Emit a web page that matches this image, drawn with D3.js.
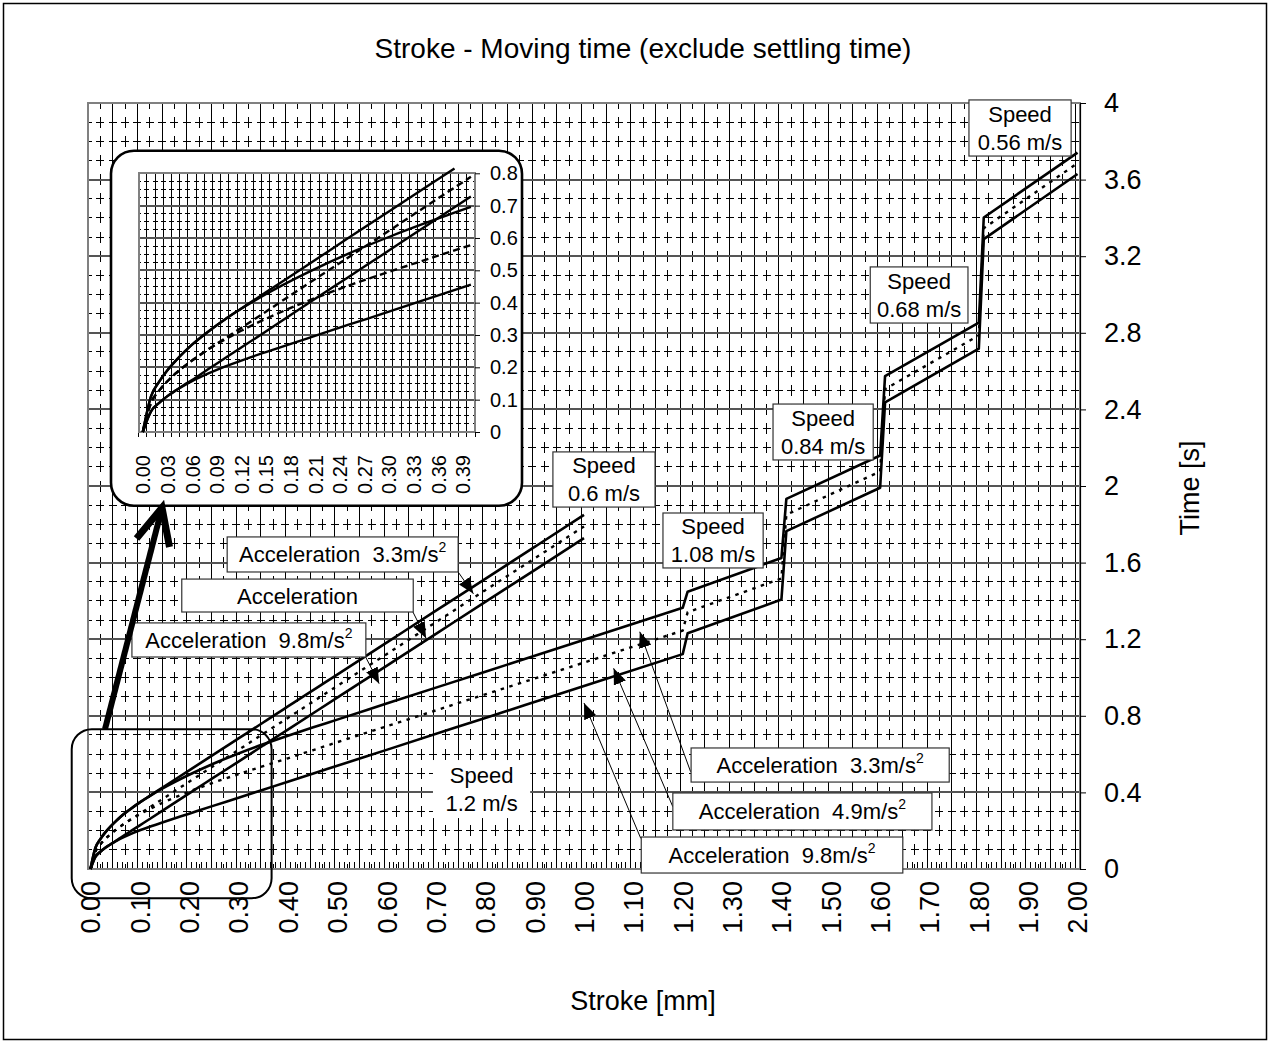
<!DOCTYPE html>
<html>
<head>
<meta charset="utf-8">
<script src="https://cdn.jsdelivr.net/npm/d3@7"></script>
<style>
  body { margin: 0; background: #fff; }
  svg { display: block; }
</style>
</head>
<body>
<svg id="chart" width="1276" height="1043"></svg>
<script>
// ---------------- data ----------------
// Stroke [mm] sample points for the 0.6 m/s family (ends at 1.00)
const strokeSlow = [0, 0.01, 0.02, 0.03, 0.04, 0.05, 0.06, 0.08, 0.10, 0.12, 0.15, 0.20, 0.25, 0.30, 0.35, 0.38, 0.40, 0.50, 0.60, 0.70, 0.80, 0.90, 1.00];
// Moving time [s], speed 0.6 m/s
const slowAcc98 = [0, 0.064, 0.090, 0.111, 0.128, 0.145, 0.161, 0.195, 0.228, 0.261, 0.311, 0.395, 0.478, 0.561, 0.645, 0.695, 0.728, 0.895, 1.061, 1.228, 1.395, 1.561, 1.728];
const slowAcc49 = [0, 0.090, 0.128, 0.157, 0.181, 0.202, 0.221, 0.256, 0.289, 0.322, 0.372, 0.456, 0.539, 0.622, 0.706, 0.756, 0.789, 0.956, 1.122, 1.289, 1.456, 1.622, 1.789];
const slowAcc33 = [0, 0.110, 0.156, 0.191, 0.220, 0.246, 0.270, 0.311, 0.348, 0.382, 0.432, 0.515, 0.599, 0.682, 0.765, 0.815, 0.849, 1.015, 1.182, 1.349, 1.515, 1.682, 1.849];

// Stroke [mm] sample points for the stepped-speed family (1.2 / 1.08 / 0.84 / 0.68 / 0.56 m/s)
const strokeStep = [0, 0.01, 0.02, 0.03, 0.04, 0.05, 0.06, 0.08, 0.10, 0.12, 0.15, 0.20, 0.25, 0.30, 0.35, 0.40, 0.45, 0.50, 0.60, 0.80, 1.00, 1.20, 1.21, 1.40, 1.41, 1.60, 1.61, 1.80, 1.81, 2.00];
const stepAcc98 = [0, 0.064, 0.090, 0.111, 0.128, 0.143, 0.157, 0.181, 0.202, 0.221, 0.247, 0.289, 0.331, 0.372, 0.414, 0.456, 0.497, 0.539, 0.622, 0.789, 0.956, 1.122, 1.231, 1.407, 1.764, 1.991, 2.437, 2.717, 3.289, 3.629];
const stepAcc49 = [0, 0.090, 0.128, 0.157, 0.181, 0.202, 0.221, 0.256, 0.286, 0.313, 0.350, 0.404, 0.452, 0.495, 0.537, 0.578, 0.620, 0.662, 0.745, 0.912, 1.078, 1.245, 1.341, 1.517, 1.850, 2.076, 2.506, 2.786, 3.346, 3.686];
const stepAcc33 = [0, 0.110, 0.156, 0.191, 0.220, 0.246, 0.270, 0.311, 0.348, 0.381, 0.426, 0.492, 0.551, 0.603, 0.651, 0.696, 0.739, 0.780, 0.864, 1.030, 1.197, 1.364, 1.448, 1.624, 1.933, 2.159, 2.574, 2.853, 3.402, 3.741];

// Axis ticks
const strokeTicks = [0, 0.1, 0.2, 0.3, 0.4, 0.5, 0.6, 0.7, 0.8, 0.9, 1.0, 1.1, 1.2, 1.3, 1.4, 1.5, 1.6, 1.7, 1.8, 1.9, 2.0];
const timeTicks = [0, 0.4, 0.8, 1.2, 1.6, 2, 2.4, 2.8, 3.2, 3.6, 4];
const insetStrokeTicks = [0, 0.03, 0.06, 0.09, 0.12, 0.15, 0.18, 0.21, 0.24, 0.27, 0.30, 0.33, 0.36, 0.39];
const insetTimeTicks = [0, 0.1, 0.2, 0.3, 0.4, 0.5, 0.6, 0.7, 0.8];

// Label texts
const speedLabels = ["0.56 m/s", "0.68 m/s", "0.84 m/s", "1.08 m/s", "0.6 m/s", "1.2 m/s"];
const accelLabels = ["3.3", "", "9.8", "3.3", "4.9", "9.8"];

// ---------------- setup ----------------
const FONT = '"Liberation Sans", Arial, Helvetica, sans-serif';
const svg = d3.select("#chart").attr("font-family", FONT);

svg.append("rect").attr("width", 1276).attr("height", 1043).attr("fill", "#fff");
svg.append("rect").attr("x", 3.5).attr("y", 3.5).attr("width", 1263).attr("height", 1036)
  .attr("fill", "none").attr("stroke", "#000").attr("stroke-width", 1.5);

const defs = svg.append("defs");
defs.append("marker").attr("id", "head")
  .attr("viewBox", "0 0 16 13").attr("refX", 16).attr("refY", 6.5)
  .attr("markerWidth", 16).attr("markerHeight", 13)
  .attr("markerUnits", "userSpaceOnUse").attr("orient", "auto")
  .append("path").attr("d", "M0,0 L16,6.5 L0,13 Z").attr("fill", "#000");

// ---------------- main plot ----------------
const M = { left: 88, right: 1080, top: 103, bottom: 869 };
const x = d3.scaleLinear().domain([-0.005, 2.005]).range([M.left, M.right]);
const y = d3.scaleLinear().domain([0, 4]).range([M.bottom, M.top]);

const grid = svg.append("g").attr("shape-rendering", "crispEdges");
const colStep = x(0.025) - x(0);   // spacing between grid columns
const rowStep = y(0) - y(0.1);     // spacing between grid rows

// dashed rows every 0.1 s
d3.range(1, 40).filter(k => k % 4 !== 0).forEach(k => {
  grid.append("line")
    .attr("x1", M.left).attr("x2", M.right).attr("y1", y(k / 10)).attr("y2", y(k / 10))
    .attr("stroke", "#000").attr("stroke-width", 1)
    .attr("stroke-dasharray", `8 ${colStep - 8}`).attr("stroke-dashoffset", 4);
});
// dashed columns between solid columns
d3.range(0, 40).forEach(k => {
  const v = 0.02 + 0.05 * k;
  grid.append("line")
    .attr("x1", x(v)).attr("x2", x(v)).attr("y1", M.bottom).attr("y2", M.top)
    .attr("stroke", "#000").attr("stroke-width", 1)
    .attr("stroke-dasharray", `11 ${rowStep - 11}`).attr("stroke-dashoffset", 5.5);
});
// solid columns every 0.05 mm
d3.range(1, 41).forEach(k => {
  const v = -0.005 + 0.05 * k;
  grid.append("line")
    .attr("x1", x(v)).attr("x2", x(v)).attr("y1", M.top).attr("y2", M.bottom)
    .attr("stroke", "#000").attr("stroke-width", 1);
});
// solid rows every 0.4 s
d3.range(1, 10).forEach(k => {
  grid.append("line")
    .attr("x1", M.left).attr("x2", M.right).attr("y1", y(k * 0.4)).attr("y2", y(k * 0.4))
    .attr("stroke", "#555").attr("stroke-width", 2);
});
// small category ticks along the bottom edge
d3.range(1, 201).forEach(k => {
  const v = -0.005 + 0.01 * k;
  grid.append("line")
    .attr("x1", x(v)).attr("x2", x(v)).attr("y1", M.bottom).attr("y2", M.bottom - 7)
    .attr("stroke", "#000").attr("stroke-width", 1);
});
grid.append("rect").attr("x", M.left).attr("y", M.top)
  .attr("width", M.right - M.left).attr("height", M.bottom - M.top)
  .attr("fill", "none").attr("stroke", "#808080").attr("stroke-width", 2);

// series: smooth near the origin, straight segments where the speed changes
const zip = (xs, ys) => xs.map((s, i) => [s, ys[i]]);
const mainSeries = [
  { pts: zip(strokeStep, stepAcc49), dash: true },
  { pts: zip(strokeSlow, slowAcc49), dash: true },
  { pts: zip(strokeStep, stepAcc98), dash: false },
  { pts: zip(strokeStep, stepAcc33), dash: false },
  { pts: zip(strokeSlow, slowAcc98), dash: false },
  { pts: zip(strokeSlow, slowAcc33), dash: false }
];
const smoothLine = d3.line().x(d => x(d[0])).y(d => y(d[1])).curve(d3.curveMonotoneX);
const straightLine = d3.line().x(d => x(d[0])).y(d => y(d[1]));
const seriesPath = pts => {
  const head = pts.filter(p => p[0] <= 1.0);
  const tail = pts.filter(p => p[0] >= 1.0);
  return smoothLine(head) + (tail.length > 1 ? straightLine(tail).replace(/^M/, "L") : "");
};
svg.append("g").selectAll("path").data(mainSeries).join("path")
  .attr("d", d => seriesPath(d.pts))
  .attr("fill", "none").attr("stroke", "#000")
  .attr("stroke-width", d => d.dash ? 2.4 : 2.6)
  .attr("stroke-dasharray", d => d.dash ? "3.5 5.5" : null)
  .attr("stroke-linejoin", "round");

// right time axis
const gy = svg.append("g").attr("transform", `translate(${M.right},0)`)
  .call(d3.axisRight(y).tickValues(timeTicks).tickSize(6).tickSizeOuter(0).tickPadding(18).tickFormat(d => String(d)));
gy.attr("font-family", FONT).attr("font-size", 27);
gy.select(".domain").attr("stroke", "#000").attr("stroke-width", 1.2);
gy.selectAll(".tick line").attr("stroke", "#000");
gy.selectAll("text").attr("fill", "#000");

// bottom stroke axis (rotated labels)
const gx = svg.append("g").attr("transform", `translate(0,${M.bottom})`)
  .call(d3.axisBottom(x).tickValues(strokeTicks).tickSize(0).tickFormat(d3.format(".2f")));
gx.attr("font-family", FONT).attr("font-size", 27);
gx.select(".domain").remove();
gx.selectAll("text").attr("fill", "#000")
  .attr("transform", "rotate(-90)").attr("text-anchor", "end")
  .attr("x", -12).attr("y", 0).attr("dy", "0.35em");

// titles
svg.append("text").attr("x", 643).attr("y", 58).attr("text-anchor", "middle")
  .attr("font-size", 28).text("Stroke - Moving time (exclude settling time)");
svg.append("text").attr("x", 643).attr("y", 1010).attr("text-anchor", "middle")
  .attr("font-size", 27).text("Stroke [mm]");
svg.append("text").attr("transform", "translate(1199,488) rotate(-90)").attr("text-anchor", "middle")
  .attr("font-size", 27).text("Time [s]");

// ---------------- annotations ----------------
const ann = svg.append("g");

// zoom region outline near the origin
ann.append("rect")
  .attr("x", x(-0.038)).attr("y", y(0.730))
  .attr("width", x(0.367) - x(-0.038)).attr("height", y(-0.153) - y(0.730))
  .attr("rx", 20).attr("ry", 20)
  .attr("fill", "none").attr("stroke", "#000").attr("stroke-width", 2);

// leader arrows (stroke, time) -> (stroke, time)
const leaders = [
  { from: [0.745, 1.551], to: [0.776, 1.437] },
  { from: [0.653, 1.344], to: [0.680, 1.205] },
  { from: [0.558, 1.105], to: [0.585, 0.968] },
  { from: [1.216, 0.508], to: [1.113, 1.239] },
  { from: [1.180, 0.325], to: [1.060, 1.048] },
  { from: [1.115, 0.160], to: [1.000, 0.867] }
];
ann.selectAll("line.leader").data(leaders).join("line").attr("class", "leader")
  .attr("x1", d => x(d.from[0])).attr("y1", d => y(d.from[1]))
  .attr("x2", d => x(d.to[0])).attr("y2", d => y(d.to[1]))
  .attr("stroke", "#000").attr("stroke-width", 1).attr("marker-end", "url(#head)");

// speed boxes
const speedBoxes = [
  { s: [1.780, 1.987], t: [4.016, 3.723], border: true },
  { s: [1.580, 1.778], t: [3.144, 2.851], border: true },
  { s: [1.383, 1.586], t: [2.428, 2.136], border: true },
  { s: [1.160, 1.363], t: [1.859, 1.572], border: true },
  { s: [0.937, 1.144], t: [2.178, 1.890], border: true },
  { s: [0.694, 0.891], t: [0.569, 0.266], border: false }
];
speedBoxes.forEach((b, i) => {
  const x0 = x(b.s[0]), x1 = x(b.s[1]), y0 = y(b.t[0]), y1 = y(b.t[1]);
  const cx = (x0 + x1) / 2, cy = (y0 + y1) / 2;
  ann.append("rect").attr("x", x0).attr("y", y0).attr("width", x1 - x0).attr("height", y1 - y0)
    .attr("fill", "#fff").attr("stroke", b.border ? "#333" : "none").attr("stroke-width", 1.2);
  ann.append("text").attr("x", cx).attr("y", cy - 6).attr("text-anchor", "middle")
    .attr("font-size", 22).text("Speed");
  ann.append("text").attr("x", cx).attr("y", cy + 22).attr("text-anchor", "middle")
    .attr("font-size", 22).text(speedLabels[i]);
});

// acceleration boxes
const accelBoxes = [
  { s: [0.277, 0.745], t: [1.734, 1.551] },
  { s: [0.185, 0.654], t: [1.514, 1.342] },
  { s: [0.084, 0.558], t: [1.285, 1.107] },
  { s: [1.217, 1.740], t: [0.632, 0.454] },
  { s: [1.180, 1.705], t: [0.397, 0.204] },
  { s: [1.116, 1.646], t: [0.167, -0.021] }
];
accelBoxes.forEach((b, i) => {
  const x0 = x(b.s[0]), x1 = x(b.s[1]), y0 = y(b.t[0]), y1 = y(b.t[1]);
  const cx = (x0 + x1) / 2, cy = (y0 + y1) / 2;
  ann.append("rect").attr("x", x0).attr("y", y0).attr("width", x1 - x0).attr("height", y1 - y0)
    .attr("fill", "#fff").attr("stroke", "#333").attr("stroke-width", 1.2);
  const t = ann.append("text").attr("x", cx).attr("y", cy + 8).attr("text-anchor", "middle")
    .attr("font-size", 22).attr("xml:space", "preserve").style("white-space", "pre");
  if (accelLabels[i]) {
    t.append("tspan").text(`Acceleration  ${accelLabels[i]}m/s`);
    t.append("tspan").attr("font-size", 14).attr("dy", -10).text("2");
  } else {
    t.append("tspan").text("Acceleration");
  }
});

// ---------------- inset (0 - 0.40 mm) ----------------
const IB = { x: 111, y: 150.7, w: 411, h: 355, r: 23 };
const IP = { left: 138.7, right: 475, top: 173.3, bottom: 432 };
const xi = d3.scaleLinear().domain([-0.005, 0.405]).range([IP.left, IP.right]);
const yi = d3.scaleLinear().domain([0, 0.8]).range([IP.bottom, IP.top]);
const inset = svg.append("g");

inset.append("rect").attr("x", IB.x).attr("y", IB.y).attr("width", IB.w).attr("height", IB.h)
  .attr("rx", IB.r).attr("ry", IB.r)
  .attr("fill", "#fff").attr("stroke", "#000").attr("stroke-width", 2.6);

const igrid = inset.append("g").attr("shape-rendering", "crispEdges");
const icol = xi(0.01) - xi(0);
// short dashed rows every 0.025 s
d3.range(1, 32).filter(k => k % 4 !== 0).forEach(k => {
  const v = k * 0.025;
  igrid.append("line")
    .attr("x1", IP.left).attr("x2", IP.right).attr("y1", yi(v)).attr("y2", yi(v))
    .attr("stroke", "#000").attr("stroke-width", 1)
    .attr("stroke-dasharray", `5 ${icol - 5}`).attr("stroke-dashoffset", 2.5);
});
// solid columns every 0.01 mm
d3.range(1, 41).forEach(k => {
  const v = -0.005 + 0.01 * k;
  igrid.append("line")
    .attr("x1", xi(v)).attr("x2", xi(v)).attr("y1", IP.top).attr("y2", IP.bottom)
    .attr("stroke", "#000").attr("stroke-width", 1);
});
// solid rows every 0.1 s
d3.range(1, 8).forEach(k => {
  igrid.append("line")
    .attr("x1", IP.left).attr("x2", IP.right).attr("y1", yi(k / 10)).attr("y2", yi(k / 10))
    .attr("stroke", "#555").attr("stroke-width", 2);
});
// bottom ticks
d3.range(0, 42).forEach(k => {
  const v = -0.005 + 0.01 * k;
  igrid.append("line")
    .attr("x1", xi(v)).attr("x2", xi(v)).attr("y1", IP.bottom).attr("y2", IP.bottom + 5)
    .attr("stroke", "#000").attr("stroke-width", 1);
});
igrid.append("rect").attr("x", IP.left).attr("y", IP.top)
  .attr("width", IP.right - IP.left).attr("height", IP.bottom - IP.top)
  .attr("fill", "none").attr("stroke", "#808080").attr("stroke-width", 2);

const insetLine = d3.line().x(d => xi(d[0])).y(d => yi(d[1])).curve(d3.curveMonotoneX);
const insetSeries = mainSeries.map(s => ({
  pts: s.pts.filter(p => p[0] <= 0.40 + 1e-9 && p[1] <= 0.82),
  dash: s.dash
}));
inset.append("g").selectAll("path").data(insetSeries).join("path")
  .attr("d", d => insetLine(d.pts))
  .attr("fill", "none").attr("stroke", "#000").attr("stroke-width", 2.4)
  .attr("stroke-dasharray", d => d.dash ? "7 4" : null)
  .attr("stroke-linejoin", "round");

const giy = inset.append("g").attr("transform", `translate(${IP.right},0)`)
  .call(d3.axisRight(yi).tickValues(insetTimeTicks).tickSize(5).tickSizeOuter(0).tickPadding(10).tickFormat(d => String(d)));
giy.attr("font-family", FONT).attr("font-size", 20);
giy.select(".domain").remove();
giy.selectAll(".tick line").attr("stroke", "#000");
giy.selectAll("text").attr("fill", "#000");

const gix = inset.append("g").attr("transform", `translate(0,${IP.bottom})`)
  .call(d3.axisBottom(xi).tickValues(insetStrokeTicks).tickSize(0).tickFormat(d3.format(".2f")));
gix.attr("font-family", FONT).attr("font-size", 20);
gix.select(".domain").remove();
gix.selectAll("text").attr("fill", "#000")
  .attr("transform", "rotate(-90)").attr("text-anchor", "end")
  .attr("x", -23).attr("y", 0).attr("dy", "0.35em");

// ---------------- thick pointer from zoom region to inset ----------------
const p0 = [x(0.0294), y(0.730)];
const p1 = [x(0.145), IB.y + IB.h + 2];
const ang = Math.atan2(p0[1] - p1[1], p0[0] - p1[0]);
const wing = (da) => [p1[0] + 40 * Math.cos(ang + da), p1[1] + 40 * Math.sin(ang + da)];
const wl = wing(0.44), wr = wing(-0.44);
svg.append("line").attr("x1", p0[0]).attr("y1", p0[1]).attr("x2", p1[0]).attr("y2", p1[1])
  .attr("stroke", "#000").attr("stroke-width", 6);
svg.append("path").attr("d", `M${wl[0]},${wl[1]} L${p1[0]},${p1[1]} L${wr[0]},${wr[1]}`)
  .attr("fill", "none").attr("stroke", "#000").attr("stroke-width", 7).attr("stroke-linejoin", "miter");
</script>
</body>
</html>
